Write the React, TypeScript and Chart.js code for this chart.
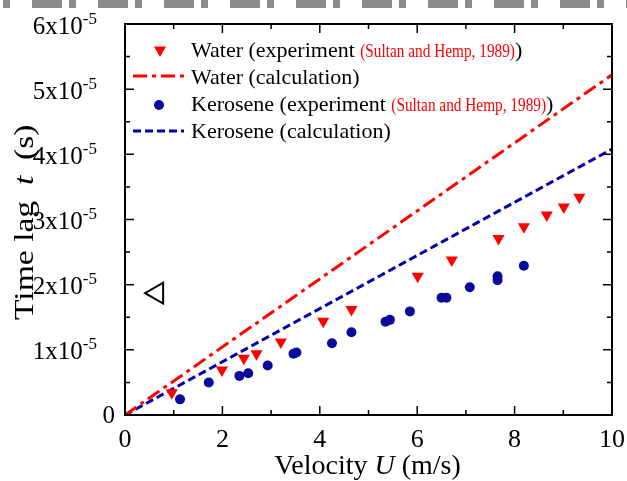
import React, { useEffect, useRef } from 'react';
import { Chart, registerables } from 'chart.js';

Chart.register(...registerables);

// ---------- data (time lag in units of 1e-5 s) ----------
const waterExpU = [0.96, 1.99, 2.44, 2.7, 3.2, 4.07, 4.65, 6.01, 6.71, 7.67, 8.19, 8.66, 9.01, 9.33];
const waterExpT = [0.34, 0.69, 0.87, 0.94, 1.12, 1.44, 1.62, 2.13, 2.38, 2.71, 2.89, 3.07, 3.19, 3.34];
const keroExpU = [1.13, 1.72, 2.35, 2.53, 2.93, 3.46, 3.52, 4.25, 4.65, 5.35, 5.44, 5.85, 6.5, 6.6, 7.08, 7.65, 7.65, 8.19];
const keroExpT = [0.24, 0.5, 0.6, 0.64, 0.76, 0.94, 0.96, 1.1, 1.27, 1.43, 1.46, 1.59, 1.8, 1.8, 1.96, 2.13, 2.07, 2.29];
const calcU = [0, 10];
const waterCalcT = [0, 5.22];
const keroCalcT = [0, 4.08];
const markerU = [0.66];
const markerT = [1.87];

const xTicks = [0, 2, 4, 6, 8, 10];
const xTickLabels = ['0', '2', '4', '6', '8', '10'];
const xMinorTicks = [1, 3, 5, 7, 9];
const yTicks = [0, 1, 2, 3, 4, 5, 6];
const yTickLabels = ['0', '1x10', '2x10', '3x10', '4x10', '5x10', '6x10'];
const yTickExponents = ['', '-5', '-5', '-5', '-5', '-5', '-5'];
const yMinorTicks = [0.5, 1.5, 2.5, 3.5, 4.5, 5.5];

const seriesLabels = ['Water (experiment', 'Water (calculation)', 'Kerosene (experiment', 'Kerosene (calculation)'];
const citation = '(Sultan and Hemp, 1989)';

const SERIF = '"Liberation Serif", "Times New Roman", serif';
const RED = '#ff0000';
const BLUE = '#0a0a9c';
const NAVY_LINE = '#0000a8';

type Run = { text: string; size: number; italic?: boolean; color?: string; sx?: number; dy?: number };

function setFont(ctx: CanvasRenderingContext2D, r: Run) {
  ctx.font = `${r.italic ? 'italic ' : ''}${r.size}px ${SERIF}`;
}
function runWidth(ctx: CanvasRenderingContext2D, r: Run) {
  setFont(ctx, r);
  return ctx.measureText(r.text).width * (r.sx ?? 1);
}
function drawRuns(ctx: CanvasRenderingContext2D, runs: Run[], x: number, y: number, align: 'left' | 'center' | 'right') {
  const total = runs.reduce((s, r) => s + runWidth(ctx, r), 0);
  let cx = align === 'left' ? x : align === 'center' ? x - total / 2 : x - total;
  for (const r of runs) {
    const w = runWidth(ctx, r);
    setFont(ctx, r);
    ctx.save();
    ctx.fillStyle = r.color ?? '#000';
    ctx.textAlign = 'left';
    ctx.textBaseline = 'alphabetic';
    ctx.translate(cx, y + (r.dy ?? 0));
    ctx.scale(r.sx ?? 1, 1);
    ctx.fillText(r.text, 0, 0);
    ctx.restore();
    cx += w;
  }
}

function triangleDown(ctx: CanvasRenderingContext2D, x: number, y: number, r: number) {
  ctx.beginPath();
  for (let i = 0; i < 3; i++) {
    const a = Math.PI + (i * 2 * Math.PI) / 3;
    const px = x + Math.sin(a) * r;
    const py = y - Math.cos(a) * r;
    if (i === 0) ctx.moveTo(px, py);
    else ctx.lineTo(px, py);
  }
  ctx.closePath();
}

const bandPlugin = {
  id: 'band',
  beforeDraw(chart: any) {
    const ctx = chart.ctx as CanvasRenderingContext2D;
    ctx.save();
    ctx.fillStyle = '#ffffff';
    ctx.fillRect(0, 0, chart.width, chart.height);
    ctx.fillStyle = '#8c8c8c';
    for (let base = -66; base < chart.width; base += 66) {
      ctx.fillRect(base + 32, 0, 30, 8);
      ctx.fillRect(base + 69, 0, 7, 8);
    }
    ctx.restore();
  },
};

const framePlugin = {
  id: 'frame',
  afterDraw(chart: any) {
    const ctx = chart.ctx as CanvasRenderingContext2D;
    const { left, right, top, bottom } = chart.chartArea;
    const xs = chart.scales.x;
    const ys = chart.scales.y;
    ctx.save();
    // frame
    ctx.strokeStyle = '#000';
    ctx.lineWidth = 2;
    ctx.strokeRect(left, top, right - left, bottom - top);
    // ticks
    ctx.lineWidth = 1.5;
    ctx.beginPath();
    const tick = (x1: number, y1: number, x2: number, y2: number) => {
      ctx.moveTo(x1, y1);
      ctx.lineTo(x2, y2);
    };
    xTicks.forEach((v) => {
      const p = xs.getPixelForValue(v);
      tick(p, bottom, p, bottom - 9);
      tick(p, top, p, top + 9);
    });
    xMinorTicks.forEach((v) => {
      const p = xs.getPixelForValue(v);
      tick(p, bottom, p, bottom - 5);
      tick(p, top, p, top + 5);
    });
    yTicks.forEach((v) => {
      const p = ys.getPixelForValue(v);
      tick(left, p, left + 9, p);
      tick(right, p, right - 9, p);
    });
    yMinorTicks.forEach((v) => {
      const p = ys.getPixelForValue(v);
      tick(left, p, left + 5, p);
      tick(right, p, right - 5, p);
    });
    ctx.stroke();

    // x tick labels
    xTicks.forEach((v, i) => {
      drawRuns(ctx, [{ text: xTickLabels[i], size: 26 }], xs.getPixelForValue(v), bottom + 32, 'center');
    });
    // y tick labels
    yTicks.forEach((v, i) => {
      const p = ys.getPixelForValue(v);
      if (yTickExponents[i]) {
        drawRuns(
          ctx,
          [
            { text: yTickLabels[i], size: 25 },
            { text: yTickExponents[i], size: 17, dy: -10 },
          ],
          left - 28,
          p + 9.5,
          'right'
        );
      } else {
        drawRuns(ctx, [{ text: yTickLabels[i], size: 25 }], left - 10, p + 7.5, 'right');
      }
    });

    // axis titles
    drawRuns(
      ctx,
      [
        { text: 'Velocity ', size: 28 },
        { text: 'U', size: 28, italic: true },
        { text: ' (m/s)', size: 28 },
      ],
      (left + right) / 2 - 1,
      474,
      'center'
    );
    ctx.save();
    ctx.translate(33, 320);
    ctx.rotate(-Math.PI / 2);
    drawRuns(ctx, [{ text: 'Time lag', size: 28, sx: 1.2 }], 0, 0, 'left');
    drawRuns(ctx, [{ text: 't', size: 28, italic: true, sx: 1.2 }], 135, 0, 'left');
    drawRuns(ctx, [{ text: '(s)', size: 28, sx: 1.2 }], 160, 0, 'left');
    ctx.restore();

    // legend
    const rows = [50, 77, 104, 131];
    const symX = 158;
    const textX = 191;
    // row 0: water experiment
    ctx.fillStyle = RED;
    triangleDown(ctx, symX + 2, rows[0], 7);
    ctx.fill();
    // row 1: water calc
    ctx.strokeStyle = RED;
    ctx.lineWidth = 3;
    ctx.setLineDash([14, 5, 4, 5]);
    ctx.beginPath();
    ctx.moveTo(133, rows[1] - 1);
    ctx.lineTo(184, rows[1] - 1);
    ctx.stroke();
    // row 2: kerosene experiment
    ctx.setLineDash([]);
    ctx.fillStyle = BLUE;
    ctx.beginPath();
    ctx.arc(symX + 1, rows[2] + 1, 5, 0, Math.PI * 2);
    ctx.fill();
    // row 3: kerosene calc
    ctx.strokeStyle = NAVY_LINE;
    ctx.setLineDash([8, 4]);
    ctx.beginPath();
    ctx.moveTo(133, rows[3]);
    ctx.lineTo(184, rows[3]);
    ctx.stroke();
    ctx.setLineDash([]);

    const withCitation = (label: string): Run[] => [
      { text: label + ' ', size: 22 },
      { text: citation, size: 18, color: RED, sx: 0.85 },
      { text: ')', size: 22 },
    ];
    drawRuns(ctx, withCitation(seriesLabels[0]), textX, rows[0] + 7, 'left');
    drawRuns(ctx, [{ text: seriesLabels[1], size: 22 }], textX, rows[1] + 7, 'left');
    drawRuns(ctx, withCitation(seriesLabels[2]), textX, rows[2] + 7, 'left');
    drawRuns(ctx, [{ text: seriesLabels[3], size: 22 }], textX, rows[3] + 7, 'left');
    ctx.restore();
  },
};

export default function App() {
  const ref = useRef<HTMLCanvasElement>(null);
  useEffect(() => {
    const chart = new Chart(ref.current as HTMLCanvasElement, {
      type: 'scatter',
      data: {
        datasets: [
          {
            type: 'line',
            label: seriesLabels[1],
            data: calcU.map((u, i) => ({ x: u, y: waterCalcT[i] })),
            borderColor: RED,
            borderWidth: 3,
            borderDash: [14, 5, 4, 5],
            pointRadius: 0,
            fill: false,
            order: 3,
          } as any,
          {
            type: 'line',
            label: seriesLabels[3],
            data: calcU.map((u, i) => ({ x: u, y: keroCalcT[i] })),
            borderColor: NAVY_LINE,
            borderWidth: 3,
            borderDash: [8, 4],
            pointRadius: 0,
            fill: false,
            order: 3,
          } as any,
          {
            label: seriesLabels[0],
            data: waterExpU.map((u, i) => ({ x: u, y: waterExpT[i] })),
            pointStyle: 'triangle',
            rotation: 180,
            pointRadius: 7,
            backgroundColor: RED,
            borderColor: RED,
            borderWidth: 0,
            order: 1,
          },
          {
            label: seriesLabels[2],
            data: keroExpU.map((u, i) => ({ x: u, y: keroExpT[i] })),
            pointStyle: 'circle',
            pointRadius: 5,
            backgroundColor: BLUE,
            borderColor: BLUE,
            borderWidth: 0,
            order: 1,
          },
          {
            label: 'marker',
            data: markerU.map((u, i) => ({ x: u, y: markerT[i] })),
            pointStyle: 'triangle',
            rotation: -90,
            pointRadius: 12,
            backgroundColor: 'rgba(0,0,0,0)',
            borderColor: '#000',
            borderWidth: 2,
            order: 1,
          },
        ],
      },
      options: {
        responsive: false,
        animation: false,
        devicePixelRatio: 1,
        layout: { padding: { left: 125, right: 15, top: 24, bottom: 66 } },
        plugins: { legend: { display: false }, tooltip: { enabled: false } },
        scales: {
          x: { type: 'linear', min: 0, max: 10, display: false },
          y: { type: 'linear', min: 0, max: 6, display: false },
        },
      },
      plugins: [bandPlugin, framePlugin],
    });
    return () => chart.destroy();
  }, []);
  return (
    <div style={{ position: 'absolute', left: 0, top: 0, width: 627, height: 481 }}>
      <canvas ref={ref} width={627} height={481} style={{ display: 'block' }} />
    </div>
  );
}
